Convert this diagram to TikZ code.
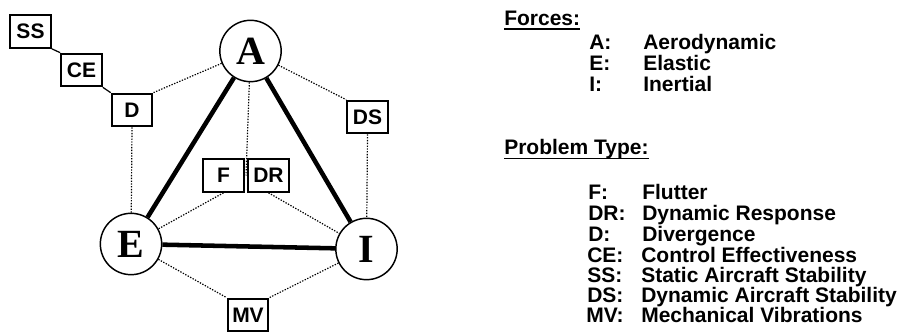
\documentclass[tikz,border=0pt]{standalone}
\usepackage{fontspec}
\setmainfont{Liberation Serif}
\setsansfont{Liberation Sans}
\usetikzlibrary{positioning,calc}

\tikzset{
  force/.style={circle,draw,line width=1.1pt,minimum size=46pt,inner sep=0pt,
    font=\fontsize{30}{30}\selectfont\bfseries},
  ptype/.style={rectangle,draw,line width=1.5pt,minimum width=30.5pt,minimum height=24.5pt,
    inner sep=0pt,font=\fontsize{15.75}{15.75}\selectfont\sffamily\bfseries},
  strong/.style={line width=3.4pt},
  weak/.style={line width=0.9pt,dash pattern={on 1pt off 1.1pt}},
  link/.style={line width=0.9pt},
  legend/.style={anchor=base west,inner sep=0pt,
    font=\fontsize{15.75}{15.75}\selectfont\sffamily\bfseries},
}

\begin{document}
\begin{tikzpicture}[x=0.75pt,y=0.75pt,yscale=-1,xscale=1]
\useasboundingbox (0,0) rectangle (901,334);

% Forces
\node[force] (A) at (250.5,51) {A};
\node[force] (E) at (131,244) {E};
\node[force] (I) at (366.5,249) {I};

% Problem types
\node[ptype] (SS) at (30.5,31.5) {SS};
\node[ptype] (CE) at (81.5,70) {CE};
\node[ptype] (D) at (132,110) {D};
\node[ptype] (DS) at (367.5,117) {DS};
\node[ptype] (F) at (223.5,175.5) {F};
\node[ptype] (DR) at (268.5,175.5) {DR};
\node[ptype] (MV) at (248,315) {MV};
\coordinate (FDR) at ($(F.east)!0.5!(DR.west)$);

% Triangle of forces
\draw[strong] (A) -- (E);
\draw[strong] (A) -- (I);
\draw[strong] (E) -- (I);

% Static chain
\draw[link] (SS.south east) -- (CE.north west);
\draw[link] (CE.south east) -- (D.north west);

% Dotted couplings
\draw[weak] (A) -- (D.north east);
\draw[weak] (D.south) -- (E);
\draw[weak] (A) -- (DS.north west);
\draw[weak] (DS.south) -- (I);
\draw[weak] (A) -- (FDR);
\draw[weak] (F.south) -- (E);
\draw[weak] (DR.south) -- (I);
\draw[weak] (E) -- (MV.north west);
\draw[weak] (I) -- (MV.north east);

% Legend: forces
\node[legend] (forces) at (504,26) {Forces:};
\draw[link] ($(forces.base west)+(0,3)$) -- ($(forces.base east)+(0,3)$);
\node[legend] (kA) at (589,50) {A:};
\node[legend] (dA) at (643,50) {Aerodynamic};
\node[legend] (kE) at (589,71) {E:};
\node[legend] (dE) at (643,71) {Elastic};
\node[legend] (kI) at (589,92) {I:};
\node[legend] (dI) at (643,92) {Inertial};

% Legend: problem types
\node[legend] (probs) at (504,155) {Problem Type:};
\draw[link] ($(probs.base west)+(0,3.5)$) -- ($(probs.base east)+(0,3.5)$);
\node[legend] (kF) at (588,200) {F:};
\node[legend] (dF) at (642,200) {Flutter};
\node[legend] (kDR) at (588,221) {DR:};
\node[legend] (dDR) at (642,221) {Dynamic Response};
\node[legend] (kD) at (588,242) {D:};
\node[legend] (dD) at (642,242) {Divergence};
\node[legend] (kCE) at (587,263) {CE:};
\node[legend] (dCE) at (641,263) {Control Effectiveness};
\node[legend] (kSS) at (587,283) {SS:};
\node[legend] (dSS) at (641,283) {Static Aircraft Stability};
\node[legend] (kDS) at (587,303) {DS:};
\node[legend] (dDS) at (641,303) {Dynamic Aircraft Stability};
\node[legend] (kMV) at (586,323) {MV:};
\node[legend] (dMV) at (641,323) {Mechanical Vibrations};

\end{tikzpicture}
\end{document}
